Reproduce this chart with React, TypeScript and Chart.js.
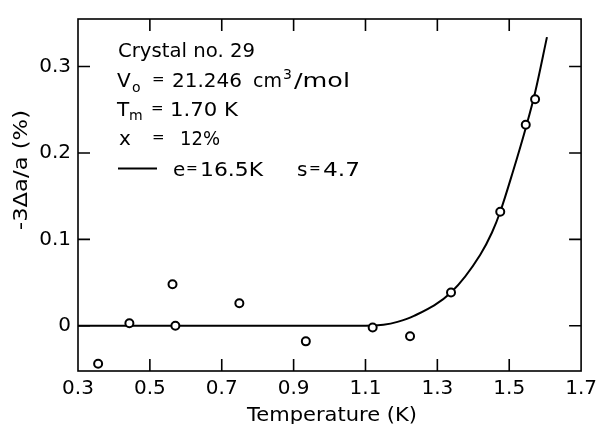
import React, { useEffect, useRef } from "react";
import { Chart, registerables } from "chart.js";

Chart.register(...registerables);

// Measured points: temperature (K) and -3Δa/a (%)
const pointTemps = [0.356, 0.443, 0.563, 0.571, 0.749, 0.934, 1.12, 1.224, 1.338, 1.475, 1.546, 1.572];
const pointValues = [-0.044, 0.003, 0.048, 0.0, 0.026, -0.018, -0.002, -0.012, 0.0386, 0.132, 0.2326, 0.2621];

// Fitted curve (e = 16.5 K, s = 4.7)
const curveTemps = [0.3, 0.7, 1.1, 1.15, 1.189, 1.235, 1.338, 1.419, 1.452, 1.475, 1.51, 1.546, 1.572, 1.605];
const curveValues = [0, 0, 0, 0.0012, 0.0045, 0.0114, 0.0386, 0.082, 0.108, 0.132, 0.178, 0.229, 0.27, 0.334];

const xTicks = [0.3, 0.5, 0.7, 0.9, 1.1, 1.3, 1.5, 1.7];
const yTicks = [0, 0.1, 0.2, 0.3];

const xTitle = "Temperature (K)";
const yTitle = "-3Δa/a (%)";

const FONT = "DejaVu Sans";

// draw text at (x, baseline y); if width is given, stretch/squeeze horizontally to it
function txt(ctx: CanvasRenderingContext2D, text: string, x: number, y: number, size: number, width?: number) {
  ctx.save();
  ctx.font = `${size}px "${FONT}"`;
  ctx.textAlign = "left";
  ctx.textBaseline = "alphabetic";
  ctx.translate(x, y);
  if (width) {
    const m = ctx.measureText(text).width;
    ctx.scale(width / m, 1);
  }
  ctx.fillText(text, 0, 0);
  ctx.restore();
}

const decorPlugin = {
  id: "decor",
  afterDatasetsDraw(chart: any) {
    const { ctx, chartArea, scales } = chart;
    const { left, right, top, bottom } = chartArea;
    const xs = scales.x;
    const ys = scales.y;
    ctx.save();
    ctx.strokeStyle = "#000";
    ctx.fillStyle = "#000";
    ctx.lineWidth = 1.6;
    ctx.strokeRect(left, top, right - left, bottom - top);
    const tl = 12;
    ctx.beginPath();
    xTicks.forEach((v) => {
      const px = xs.getPixelForValue(v);
      if (px <= left + 1 || px >= right - 1) return;
      ctx.moveTo(px, bottom);
      ctx.lineTo(px, bottom - tl);
      ctx.moveTo(px, top);
      ctx.lineTo(px, top + tl);
    });
    yTicks.forEach((v) => {
      const py = ys.getPixelForValue(v);
      if (py <= top + 1 || py >= bottom - 1) return;
      ctx.moveTo(left, py);
      ctx.lineTo(left + tl, py);
      ctx.moveTo(right, py);
      ctx.lineTo(right - tl, py);
    });
    ctx.stroke();

    // axis titles
    txt(ctx, xTitle, 247, 421, 20, 170);
    ctx.save();
    ctx.translate(27, 230);
    ctx.rotate(-Math.PI / 2);
    txt(ctx, yTitle, 0, 0, 20, 120);
    ctx.restore();

    // annotation block
    txt(ctx, "Crystal no. 29", 118, 57, 20, 137);

    txt(ctx, "V", 117, 87, 20);
    txt(ctx, "o", 132, 92, 14);
    txt(ctx, "=", 152, 84, 15);
    txt(ctx, "21.246", 172, 87, 20, 70);
    txt(ctx, "cm", 253, 87, 20, 29);
    txt(ctx, "3", 283, 79, 14);
    txt(ctx, "/mol", 294, 87, 20, 56);

    txt(ctx, "T", 117, 116, 20);
    txt(ctx, "m", 129, 120, 14);
    txt(ctx, "=", 151, 113, 15);
    txt(ctx, "1.70 K", 170, 116, 20, 68);

    txt(ctx, "x", 119, 145, 20);
    txt(ctx, "=", 152, 142, 15);
    txt(ctx, "12%", 180, 145, 20, 40);

    ctx.lineWidth = 2;
    ctx.beginPath();
    ctx.moveTo(118, 168.5);
    ctx.lineTo(157, 168.5);
    ctx.stroke();
    txt(ctx, "e", 173, 176, 20);
    txt(ctx, "=", 186, 173, 14);
    txt(ctx, "16.5K", 200, 176, 20, 63);
    txt(ctx, "s", 297, 176, 20);
    txt(ctx, "=", 309, 173, 14);
    txt(ctx, "4.7", 323, 176, 20, 37);
    ctx.restore();
  },
};

export default function App() {
  const ref = useRef<HTMLCanvasElement | null>(null);
  useEffect(() => {
    if (!ref.current) return;
    const chart = new Chart(ref.current, {
      type: "scatter",
      data: {
        datasets: [
          {
            label: "data",
            data: pointTemps.map((t, i) => ({ x: t, y: pointValues[i] })),
            showLine: false,
            pointRadius: 4,
            pointBorderWidth: 2,
            pointBackgroundColor: "#fff",
            pointBorderColor: "#000",
          },
          {
            label: "fit",
            data: curveTemps.map((t, i) => ({ x: t, y: curveValues[i] })),
            showLine: true,
            pointRadius: 0,
            borderColor: "#000",
            borderWidth: 2,
            cubicInterpolationMode: "monotone",
          } as any,
        ],
      },
      options: {
        animation: false,
        responsive: false,
        events: [],
        layout: { padding: { top: 12.5, right: 17, left: 0, bottom: 0 } },
        plugins: { legend: { display: false }, tooltip: { enabled: false } },
        scales: {
          x: {
            type: "linear",
            min: 0.3,
            max: 1.7,
            grid: { display: false, drawTicks: false },
            border: { display: false },
            afterFit: (s: any) => {
              s.height = 53;
            },
            afterBuildTicks: (s: any) => {
              s.ticks = xTicks.map((v) => ({ value: v }));
            },
            ticks: {
              padding: 6,
              color: "#000",
              maxRotation: 0,
              autoSkip: false,
              font: { family: FONT, size: 20 },
              callback: (v: any) => Number(v).toFixed(1),
            },
          },
          y: {
            type: "linear",
            min: -0.0523,
            max: 0.355,
            grid: { display: false, drawTicks: false },
            border: { display: false },
            afterFit: (s: any) => {
              s.width = 78;
            },
            afterBuildTicks: (s: any) => {
              s.ticks = yTicks.map((v) => ({ value: v }));
            },
            ticks: {
              padding: 7,
              color: "#000",
              autoSkip: false,
              font: { family: FONT, size: 20 },
              callback: (v: any) => (Number(v) === 0 ? "0" : Number(v).toFixed(1)),
            },
          },
        },
      },
      plugins: [decorPlugin],
    });
    return () => chart.destroy();
  }, []);
  return (
    <div style={{ position: "fixed", left: 0, top: 0, width: 603, height: 424, background: "#fff" }}>
      <canvas ref={ref} width={603} height={424} />
    </div>
  );
}
